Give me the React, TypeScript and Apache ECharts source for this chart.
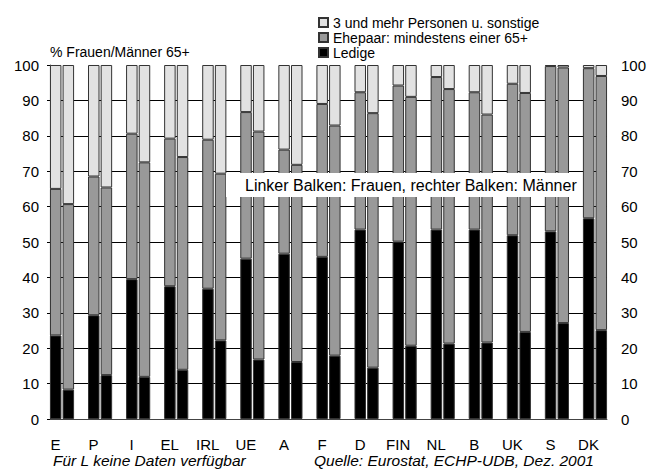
import React, { useEffect, useRef } from "react";
import * as echarts from "echarts";

// Haushaltsform der Frauen/Männer ab 65 Jahren, Anteile in %
const countries = ["E", "P", "I", "EL", "IRL", "UE", "A", "F", "D", "FIN", "NL", "B", "UK", "S", "DK"];

// Frauen (linker Balken)
const ledigeFrauen = [23.6, 29.3, 39.5, 37.5, 36.8, 45.3, 46.7, 45.8, 53.5, 50.1, 53.5, 53.5, 51.9, 53.0, 56.7];
const ehepaarFrauen = [41.4, 39.2, 41.1, 41.7, 42.1, 41.4, 29.4, 43.2, 38.8, 44.1, 43.1, 38.8, 42.8, 46.7, 42.4];
const sonstigeFrauen = [35.0, 31.5, 19.4, 20.8, 21.1, 13.3, 23.9, 11.0, 7.7, 5.8, 3.4, 7.7, 5.3, 0.3, 0.9];

// Männer (rechter Balken)
const ledigeMaenner = [8.3, 12.4, 11.9, 13.9, 22.2, 16.8, 16.1, 17.9, 14.5, 20.7, 21.3, 21.6, 24.6, 27.1, 25.1];
const ehepaarMaenner = [52.4, 53.0, 60.6, 60.1, 47.1, 64.4, 55.7, 65.0, 71.9, 70.3, 71.9, 64.4, 67.5, 72.2, 71.8];
const sonstigeMaenner = [39.3, 34.6, 27.5, 26.0, 30.7, 18.8, 28.2, 17.1, 13.6, 9.0, 6.8, 14.0, 7.9, 0.7, 3.1];

const yTicks = { min: 0, max: 100, interval: 10 };

const NAME_LEDIGE = "Ledige";
const NAME_EHEPAAR = "Ehepaar: mindestens einer 65+";
const NAME_SONSTIGE = "3 und mehr Personen u. sonstige";

const FONT = "'Liberation Sans', Arial, sans-serif";

export default function App() {
  const ref = useRef<HTMLDivElement>(null);

  useEffect(() => {
    if (!ref.current) return;
    const chart = echarts.init(ref.current, null, { renderer: "svg" });

    const barBase = {
      type: "bar" as const,
      xAxisIndex: 1,
      yAxisIndex: 2,
      barWidth: 11.5,
      barGap: "10%",
      z: 3,
    };
    const styleFor = (color: string) => ({
      color,
      borderColor: "#333333",
      borderWidth: 1,
    });

    const series = [
      { ...barBase, name: NAME_LEDIGE, stack: "frauen", data: ledigeFrauen, itemStyle: styleFor("#000000") },
      { ...barBase, name: NAME_EHEPAAR, stack: "frauen", data: ehepaarFrauen, itemStyle: styleFor("#999999") },
      { ...barBase, name: NAME_SONSTIGE, stack: "frauen", data: sonstigeFrauen, itemStyle: styleFor("#E2E2E2") },
      { ...barBase, name: NAME_LEDIGE, stack: "maenner", data: ledigeMaenner, itemStyle: styleFor("#000000") },
      { ...barBase, name: NAME_EHEPAAR, stack: "maenner", data: ehepaarMaenner, itemStyle: styleFor("#999999") },
      { ...barBase, name: NAME_SONSTIGE, stack: "maenner", data: sonstigeMaenner, itemStyle: styleFor("#E2E2E2") },
    ];

    chart.setOption({
      animation: false,
      textStyle: { fontFamily: FONT },
      legend: {
        orient: "vertical",
        left: 313,
        top: 10,
        itemWidth: 9,
        itemHeight: 9,
        itemGap: 0,
        icon: "rect",
        data: [NAME_SONSTIGE, NAME_EHEPAAR, NAME_LEDIGE],
        textStyle: { fontSize: 14, lineHeight: 15, color: "#000", fontFamily: FONT },
        selectedMode: false,
      },
      grid: [
        // frame with axes and grid lines
        { left: 50, top: 65, width: 557, height: 354 },
        // bars
        { left: 42.97, top: 65, width: 571.05, height: 354 },
      ],
      xAxis: [
        {
          type: "category",
          gridIndex: 0,
          data: countries,
          axisLine: { show: true, lineStyle: { color: "#444", width: 1 } },
          axisTick: { show: false },
          axisLabel: { show: false },
          splitLine: { show: false },
        },
        {
          type: "category",
          gridIndex: 1,
          data: countries,
          axisLine: { show: false },
          axisTick: { show: false },
          axisLabel: {
            show: true,
            fontSize: 15,
            color: "#000",
            fontFamily: FONT,
            margin: 18,
            padding: [0, 13, 0, 0],
          },
          splitLine: { show: false },
        },
      ],
      yAxis: [
        {
          type: "value",
          gridIndex: 0,
          ...yTicks,
          axisLine: { show: true, lineStyle: { color: "#555", width: 1 } },
          axisTick: { show: true, length: 3, lineStyle: { color: "#000" } },
          axisLabel: { fontSize: 15, color: "#000", fontFamily: FONT, margin: 11 },
          splitLine: {
            show: true,
            showMinLine: false,
            showMaxLine: false,
            lineStyle: { color: "#000", width: 1 },
          },
        },
        {
          type: "value",
          gridIndex: 0,
          position: "right",
          ...yTicks,
          axisLine: { show: false },
          axisTick: { show: false },
          axisLabel: { fontSize: 15, color: "#000", fontFamily: FONT, margin: 14 },
          splitLine: { show: false },
        },
        {
          type: "value",
          gridIndex: 1,
          ...yTicks,
          show: false,
        },
      ],
      series,
      graphic: [
        {
          type: "text",
          x: 50,
          y: 51.5,
          z: 10,
          style: {
            text: "% Frauen/Männer 65+",
            fontSize: 14,
            fontFamily: FONT,
            fill: "#000",
            align: "left",
            verticalAlign: "middle",
          },
        },
        {
          type: "rect",
          z: 20,
          shape: { x: 226, y: 173, width: 354, height: 24 },
          style: { fill: "#ffffff" },
        },
        {
          type: "text",
          z: 21,
          x: 245,
          y: 185,
          style: {
            text: "Linker Balken: Frauen, rechter Balken: Männer",
            fontSize: 16,
            fontFamily: FONT,
            fill: "#000",
            align: "left",
            verticalAlign: "middle",
          },
        },
        {
          type: "text",
          x: 53,
          y: 460.5,
          z: 10,
          style: {
            text: "Für L keine Daten verfügbar",
            fontSize: 15.5,
            fontStyle: "italic",
            fontFamily: FONT,
            fill: "#000",
            align: "left",
            verticalAlign: "middle",
          },
        },
        {
          type: "text",
          x: 314,
          y: 460.5,
          z: 10,
          style: {
            text: "Quelle: Eurostat, ECHP-UDB, Dez. 2001",
            fontSize: 15.5,
            fontStyle: "italic",
            fontFamily: FONT,
            fill: "#000",
            align: "left",
            verticalAlign: "middle",
          },
        },
      ],
    });

    return () => chart.dispose();
  }, []);

  return (
    <div
      ref={ref}
      style={{ position: "fixed", left: 0, top: 0, width: 656, height: 470, background: "#fff" }}
    />
  );
}
